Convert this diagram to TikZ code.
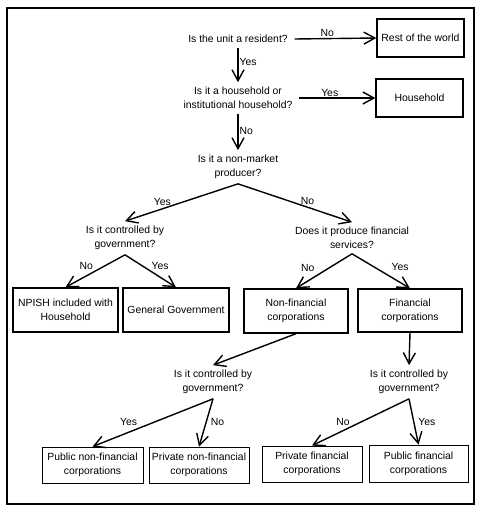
\documentclass[tikz,border=0pt]{standalone}
\usepackage{fontspec}
\setmainfont{Liberation Sans}
\usetikzlibrary{arrows.meta}

\begin{document}
\begin{tikzpicture}[x=1pt, y=-1pt,
                    font=\fontsize{10.4}{14}\selectfont,
                    my rule/.style={line width=1.4pt},
                    my question/.style={
                      align=center, inner xsep=4pt, inner ysep=2pt,
                      outer sep=3pt},
                    my box/.style 2 args={
                      draw, my rule, align=center, inner sep=0pt,
                      minimum width=#1, minimum height=#2},
                    my leaf/.style 2 args={
                      my box={#1}{#2}, line width=0.8pt},
                    my arrow/.style={
                      -{Straight Barb[length=11pt, width=12pt]}, my rule},
                    my label/.style={inner sep=1pt}]

\useasboundingbox (0,0) rectangle (484,514);
\draw[my rule] (7,8) rectangle (474,504);

% Questions
\node[my question] (resident)   at (238,39)  {Is the unit a resident?};
\node[my question] (household)  at (238,98)  {Is it a household or\\institutional household?};
\node[my question] (nonmarket)  at (238,167) {Is it a non-market\\producer?};
\node[my question] (govctrl)    at (125,238) {Is it controlled by\\government?};
\node[my question] (finserv)    at (352,238) {Does it produce financial\\services?};
\node[my question] (govctrlnf)  at (213,382) {Is it controlled by\\government?};
\node[my question] (govctrlf)   at (409,382) {Is it controlled by\\government?};

% Sectors
\node[my box={87pt}{38pt}]  (rest)    at (420.5,38)  {Rest of the world};
\node[my box={87pt}{38pt}]  (hh)      at (419.5,98)  {Household};
\node[my box={105pt}{44pt}] (npish)   at (65.5,310)  {NPISH included with\\Household};
\node[my box={106pt}{44pt}] (gengov)  at (176,310)   {General Government};
\node[my box={104pt}{44pt}] (nonfin)  at (296,311)   {Non-financial\\corporations};
\node[my box={104pt}{43pt}] (fin)     at (410,310.5) {Financial\\corporations};

% Subsectors
\node[my leaf={101pt}{36pt}] (pubnf)  at (92.5,465)  {Public non-financial\\corporations};
\node[my leaf={100pt}{36pt}] (privnf) at (199,465)   {Private non-financial\\corporations};
\node[my leaf={100pt}{36pt}] (privf)  at (312,464)   {Private financial\\corporations};
\node[my leaf={99pt}{37pt}]  (pubf)   at (418.5,463.5) {Public financial\\corporations};

% Decisions
\draw[my arrow] (resident.east) -- node[my label, pos=0.4, above] {No} (rest.west);
\draw[my arrow] (resident.south) -- node[my label, pos=0.4, right] {Yes} (household.north);
\draw[my arrow] (household.east) -- node[my label, pos=0.4, above] {Yes} (hh.west);
\draw[my arrow] (household.south) -- node[my label, pos=0.47, right] {No} (nonmarket.north);

\draw[my arrow] (nonmarket.south) -- node[my label, pos=0.67, above=2pt] {Yes} (govctrl.north);
\draw[my arrow] (nonmarket.south) -- node[my label, pos=0.61, above=1pt] {No} (finserv.north);

\draw[my arrow] (govctrl.south) -- node[my label, pos=0.65, above=5pt] {No} (npish.north);
\draw[my arrow] (govctrl.south) -- node[my label, pos=0.69, above=6pt] {Yes} (gengov.north);
\draw[my arrow] (finserv.south) -- node[my label, pos=0.79, above=8pt] {No} (nonfin.north);
\draw[my arrow] (finserv.south) -- node[my label, pos=0.83, above=10pt] {Yes} (fin.north);

\draw[my arrow] (nonfin.south) -- (govctrlnf.north);
\draw[my arrow] (fin.south) -- (govctrlf.north);

\draw[my arrow] (govctrlnf.south) -- node[my label, pos=0.7, above=5pt] {Yes} (pubnf.north);
\draw[my arrow] (govctrlnf.south) -- node[my label, pos=0.48, right=3pt] {No} (privnf.north);
\draw[my arrow] (govctrlf.south) -- node[my label, pos=0.68, above=3pt] {No} (privf.north);
\draw[my arrow] (govctrlf.south) -- node[my label, pos=0.5, right=3pt] {Yes} (pubf.north);
\end{tikzpicture}
\end{document}
